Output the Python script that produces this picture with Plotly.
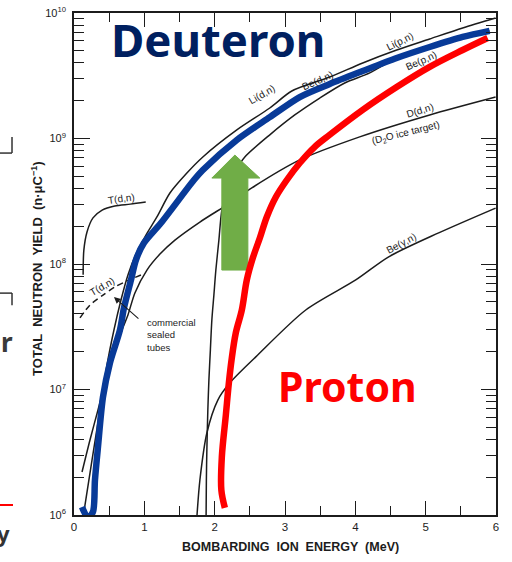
import plotly.graph_objects as go

# ---- thick-target neutron yield curves (n per microcoulomb) vs ion energy (MeV) ----
td_energy = [0.13, 0.14, 0.185, 0.27, 0.40, 0.58, 0.80, 1.02]
td_yield = [8.2e7, 1.29e8, 1.80e8, 2.33e8, 2.69e8, 2.90e8, 3.0e8, 3.12e8]

td_tube_energy = [0.085, 0.227, 0.412, 0.582, 0.753, 0.952]
td_tube_yield = [3.72e7, 4.71e7, 5.66e7, 6.56e7, 7.33e7, 8.17e7]

lid_energy = [0.128, 0.256, 0.369, 0.469, 0.568, 0.668, 0.767, 0.881, 1.023, 1.179, 1.364, 1.605,
              1.832, 2.315, 2.784, 3.097, 3.636, 4.105, 4.588, 5.057, 5.526, 5.994]
lid_yield = [0.95e6, 2.74e6, 6.87e6, 1.57e7, 2.98e7, 5.16e7, 8.17e7, 1.20e8, 1.70e8, 2.37e8, 3.68e8, 5.31e8,
             7.13e8, 1.17e9, 1.75e9, 2.39e9, 3.09e9, 4.0e9, 5.07e9, 6.21e9, 7.59e9, 9.12e9]

dd_energy = [0.114, 0.227, 0.341, 0.455, 0.554, 0.653, 0.767, 0.866, 1.037, 1.222, 1.435,
             1.79, 2.216, 2.528, 3.21, 4.062, 5.057, 5.994]
dd_yield = [2.2e6, 3.96e6, 6.87e6, 1.19e7, 1.88e7, 2.72e7, 3.93e7, 5.88e7, 8.95e7, 1.20e8, 1.55e8,
            2.16e8, 3.06e8, 4.04e8, 6.75e8, 1.03e9, 1.54e9, 2.14e9]

lip_energy = [1.878, 1.882, 1.889, 1.903, 1.918, 1.939, 1.96, 1.989, 2.017, 2.06, 2.102, 2.188,
              2.301, 2.429, 2.784, 3.139, 3.494, 3.849, 4.205, 4.588, 5.057, 5.526, 5.909]
lip_yield = [0.96e6, 1.9e6, 3.3e6, 6.87e6, 1.19e7, 2.07e7, 3.58e7, 5.66e7, 8.95e7, 1.55e8, 2.69e8, 4.26e8,
             5.61e8, 7.13e8, 1.07e9, 1.54e9, 2.10e9, 2.77e9, 3.33e9, 4.38e9, 5.36e9, 6.44e9, 7.2e9]

begn_energy = [1.747, 1.79, 1.889, 2.045, 2.216, 2.585, 3.295, 4.006, 4.474, 5.185, 5.994]
begn_yield = [0.96e6, 1.9e6, 4.5e6, 8.24e6, 1.13e7, 1.82e7, 4.3e7, 7.46e7, 1.14e8, 1.77e8, 2.79e8]

# ---- highlighted envelopes ----
deuteron_energy = [0.114, 0.199, 0.27, 0.298, 0.341, 0.412, 0.511, 0.653, 0.71, 0.81, 0.881, 0.994,
                   1.236, 1.705, 1.832, 2.315, 2.784, 3.21, 3.636, 4.105, 4.588, 5.057, 5.526, 5.909]
deuteron_yield = [1.16e6, 0.95e6, 1.06e6, 1.9e6, 3.48e6, 8.7e6, 1.63e7, 2.98e7, 4.46e7, 7.46e7, 1.08e8, 1.47e8,
                  2.12e8, 4.67e8, 5.61e8, 9.73e8, 1.48e9, 2.14e9, 2.72e9, 3.45e9, 4.38e9, 5.36e9, 6.44e9, 7.2e9]

proton_energy = [2.145, 2.095, 2.102, 2.159, 2.202, 2.24, 2.30, 2.386, 2.457, 2.543, 2.642,
                 2.741, 2.870, 3.026, 3.21, 3.42, 3.636, 4.105, 4.588, 5.057, 5.526, 5.881]
proton_yield = [1.14e6, 1.58e6, 2.9e6, 6.27e6, 1.13e7, 1.72e7, 2.82e7, 4.3e7, 7.46e7, 1.12e8, 1.61e8,
                2.37e8, 3.42e8, 4.67e8, 6.38e8, 8.55e8, 1.07e9, 1.69e9, 2.57e9, 3.72e9, 5.07e9, 6.32e9]

# block arrow (energy, yield) outline
arrow_energy = [2.102, 2.472, 2.472, 2.642, 2.287, 1.96, 2.102, 2.102]
arrow_yield = [8.95e7, 8.95e7, 4.84e8, 4.84e8, 7.38e8, 4.84e8, 4.84e8, 8.95e7]

# ---- axes ----
energy_ticks = [0, 1, 2, 3, 4, 5, 6]
yield_ticks = [1e6, 1e7, 1e8, 1e9, 1e10]
yield_ticktext = ["10<sup>6</sup>", "10<sup>7</sup>", "10<sup>8</sup>", "10<sup>9</sup>", "10<sup>10</sup>"]
yield_minor = [m * 10 ** e for e in range(6, 10) for m in range(2, 10)]

INK = "#1c1c1c"
LABEL_FONT = "Liberation Sans"
BLUE = "#083a98"
RED = "#ff0000"
GREEN = "#70ad47"

fig = go.Figure()


def ink_line(x, y, dash="solid"):
    fig.add_trace(go.Scatter(
        x=x, y=y, mode="lines", hoverinfo="skip", showlegend=False,
        line=dict(color=INK, width=1.5, shape="spline", smoothing=0.8, dash=dash),
    ))


ink_line(td_energy, td_yield)
ink_line(td_tube_energy, td_tube_yield, dash="6px,4px")
ink_line(lid_energy, lid_yield)
ink_line(dd_energy, dd_yield)
ink_line(lip_energy, lip_yield)
ink_line(begn_energy, begn_yield)

fig.add_trace(go.Scatter(
    x=arrow_energy, y=arrow_yield, mode="lines", fill="toself", fillcolor=GREEN,
    line=dict(color=GREEN, width=1), hoverinfo="skip", showlegend=False,
))

fig.add_trace(go.Scatter(
    x=deuteron_energy, y=deuteron_yield, mode="lines", hoverinfo="skip", showlegend=False,
    line=dict(color=BLUE, width=6.5, shape="spline", smoothing=0.8),
))
fig.add_trace(go.Scatter(
    x=proton_energy, y=proton_yield, mode="lines", hoverinfo="skip", showlegend=False,
    line=dict(color=RED, width=6.5, shape="spline", smoothing=1.0),
))

# frame trace for the mirrored top/right axes
fig.add_trace(go.Scatter(
    x=[0, 6], y=[1e6, 1e10], xaxis="x2", yaxis="y2", mode="lines",
    line=dict(width=0), opacity=0, hoverinfo="skip", showlegend=False,
))

axis_common = dict(showline=True, linecolor=INK, linewidth=1.6, showgrid=False, zeroline=False,
                   ticks="inside", tickcolor=INK, tickwidth=1.4, automargin=False)

fig.update_layout(
    width=512, height=562,
    margin=dict(l=74, r=16, t=13, b=47, autoexpand=False),
    paper_bgcolor="white", plot_bgcolor="white",
    xaxis=dict(range=[0, 6], tickvals=energy_ticks, ticklen=14,
               minor=dict(ticks="inside", dtick=0.5, tick0=0, ticklen=9, tickcolor=INK, tickwidth=1.4),
               tickfont=dict(family=LABEL_FONT, size=11.5, color=INK), **axis_common),
    xaxis2=dict(range=[0, 6], overlaying="x", side="top", anchor="y", tickvals=energy_ticks, ticklen=14,
                showticklabels=False,
                minor=dict(ticks="inside", dtick=0.5, tick0=0, ticklen=9, tickcolor=INK, tickwidth=1.4),
                **axis_common),
    yaxis=dict(type="log", range=[6, 10], tickvals=yield_ticks, ticktext=yield_ticktext, ticklen=16,
               ticklabelstandoff=4,
               minor=dict(ticks="inside", tickvals=yield_minor, ticklen=10, tickcolor=INK, tickwidth=1.4),
               tickfont=dict(family=LABEL_FONT, size=11, color=INK), **axis_common),
    yaxis2=dict(type="log", range=[6, 10], overlaying="y", side="right", anchor="x", tickvals=yield_ticks,
                ticklen=15, showticklabels=False,
                minor=dict(ticks="inside", tickvals=yield_minor, ticklen=10, tickcolor=INK, tickwidth=1.4),
                **axis_common),
)

small = dict(family=LABEL_FONT, size=10, color=INK)
curve_labels = [
    ("Li(d,n)", 2.67, 9.347, -30),
    ("Be(d,n)", 3.466, 9.466, -24),
    ("Li(p,n)", 4.63, 9.769, -27),
    ("Be(p,n)", 4.943, 9.618, -24),
    ("D(d,n)", 4.915, 9.227, -17),
    ("(D<sub>2</sub>O ice target)", 4.716, 9.044, -14),
    ("Be(γ,n)", 4.645, 8.167, -28),
    ("T(d,n)", 0.68, 8.518, -8),
    ("T(d,n)", 0.40, 7.817, -30),
]
for text, x, y, ang in curve_labels:
    fig.add_annotation(x=x, y=y, xref="x", yref="y", text=text, textangle=ang,
                       xanchor="center", yanchor="middle", showarrow=False, font=small)

fig.add_annotation(x=1.009, y=7.434, xref="x", yref="y", xanchor="left", yanchor="middle", align="left",
                   text="commercial<br>sealed<br>tubes", showarrow=False,
                   font=dict(family=LABEL_FONT, size=9.5, color=INK))
fig.add_annotation(x=0.568, y=7.737, xref="x", yref="y", ax=0.9375, ay=7.554, axref="x", ayref="y",
                   text="", showarrow=True, arrowhead=2, arrowsize=1.2, arrowwidth=1.1, arrowcolor=INK)

# axis titles
fig.add_annotation(x=0.512, y=-0.064, xref="paper", yref="paper", xanchor="center", yanchor="middle",
                   showarrow=False, text="BOMBARDING  ION  ENERGY  (MeV)",
                   font=dict(family=LABEL_FONT, size=12.5, color=INK, weight="bold"))
fig.add_annotation(x=-0.088, y=0.492, xref="paper", yref="paper", xanchor="center", yanchor="middle",
                   showarrow=False, textangle=-90,
                   text="TOTAL  NEUTRON  YIELD  (n·μC<sup>−1</sup>)",
                   font=dict(family=LABEL_FONT, size=13, color=INK, weight="bold"))

# headline labels
fig.add_annotation(x=0.341, y=0.948, xref="paper", yref="paper", xanchor="center", yanchor="middle",
                   showarrow=False, text="<b>Deuteron</b>",
                   font=dict(family="Noto Sans", size=45.5, color="#002060"))
fig.add_annotation(x=0.649, y=0.257, xref="paper", yref="paper", xanchor="center", yanchor="middle",
                   showarrow=False, text="<b>Proton</b>",
                   font=dict(family="Noto Sans", size=41, color=RED))

# fragments at the left margin
frag = dict(color="#333333", width=1.5)
fig.add_shape(type="line", xref="paper", yref="paper", x0=-0.1754, y0=0.721, x1=-0.1469, y1=0.721, line=frag)
fig.add_shape(type="line", xref="paper", yref="paper", x0=-0.1469, y0=0.753, x1=-0.1469, y1=0.721, line=frag)
fig.add_shape(type="line", xref="paper", yref="paper", x0=-0.1754, y0=0.442, x1=-0.1469, y1=0.442, line=frag)
fig.add_shape(type="line", xref="paper", yref="paper", x0=-0.1469, y0=0.442, x1=-0.1469, y1=0.418, line=frag)
fig.add_shape(type="line", xref="paper", yref="paper", x0=-0.1754, y0=0.0199, x1=-0.1445, y1=0.0199,
              line=dict(color=RED, width=2))
fig.add_annotation(x=-0.158, y=0.345, xref="paper", yref="paper", xanchor="center", yanchor="middle",
                   showarrow=False, text="<b>r</b>",
                   font=dict(family="Noto Sans", size=26, color="#3a3a3a"))
fig.add_annotation(x=-0.168, y=-0.036, xref="paper", yref="paper", xanchor="center", yanchor="middle",
                   showarrow=False, text="<b>y</b>",
                   font=dict(family="Noto Sans", size=22, color="#333333"))

fig.write_html("out.html")
